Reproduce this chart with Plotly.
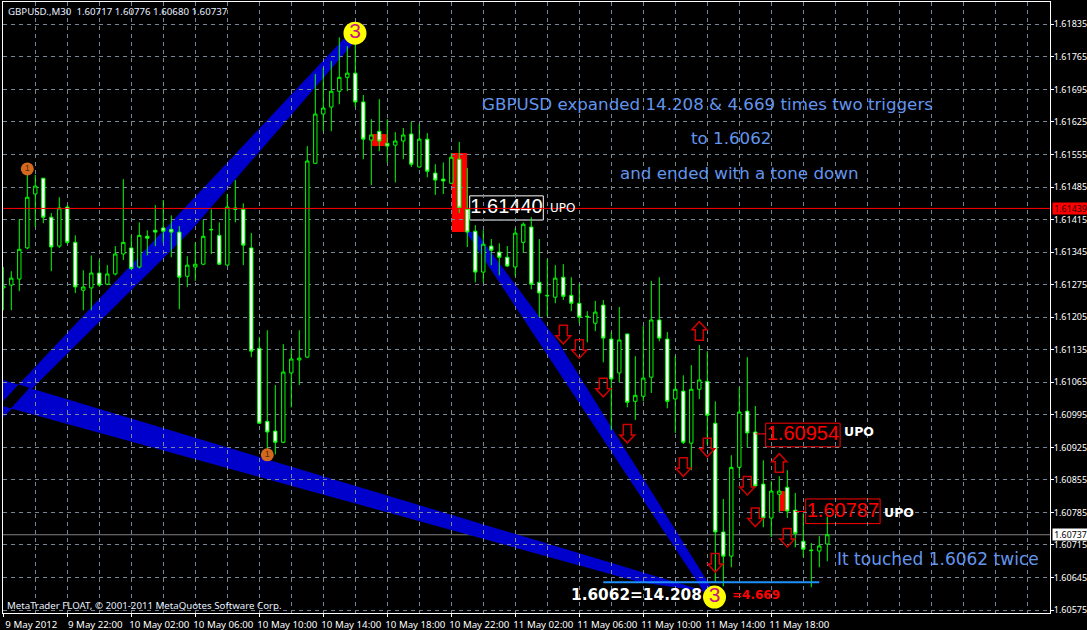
import plotly.graph_objects as go

# ---- candle data (30-minute bars) ----
bars = list(range(104))
opens = [1.61268,1.61274,1.61287,1.61354,1.61470,1.61504,1.61420,1.61358,1.61442,1.61366,
         1.61263,1.61268,1.61300,1.61276,1.61298,1.61341,1.61354,1.61313,1.61379,1.61392,
         1.61397,1.61394,1.61388,1.61293,1.61313,1.61319,1.61394,1.61381,1.61317,1.61440,
         1.61437,1.61354,1.61138,1.60981,1.60960,1.60936,1.61085,1.61113,1.61119,1.61536,
         1.61642,1.61657,1.61691,1.61721,1.61730,1.61668,1.61586,1.61605,1.61579,1.61575,
         1.61584,1.61599,1.61528,1.61588,1.61515,1.61502,1.61493,1.61545,1.61437,1.61390,
         1.61302,1.61358,1.61345,1.61334,1.61313,1.61366,1.61399,1.61280,1.61252,1.61248,
         1.61291,1.61252,1.61235,1.61207,1.61192,1.61231,1.61158,1.61085,1.61169,1.61024,
         1.61035,1.61076,1.61199,1.61158,1.61029,1.61046,1.60934,1.61050,1.61067,1.60977,
         1.60743,1.60691,1.60882,1.61003,1.60958,1.60846,1.60773,1.60824,1.60839,1.60790,
         1.60723,1.60704,1.60702,1.60717]
highs = [1.61313,1.61304,1.61416,1.61521,1.61511,1.61504,1.61429,1.61463,1.61446,1.61381,
         1.61306,1.61338,1.61328,1.61317,1.61358,1.61502,1.61381,1.61409,1.61392,1.61446,
         1.61457,1.61424,1.61401,1.61336,1.61366,1.61414,1.61437,1.61409,1.61470,1.61500,
         1.61450,1.61386,1.61162,1.61177,1.61059,1.61147,1.61136,1.61177,1.61573,1.61728,
         1.61741,1.61756,1.61807,1.61788,1.61794,1.61683,1.61631,1.61674,1.61631,1.61603,
         1.61612,1.61625,1.61620,1.61601,1.61534,1.61538,1.61558,1.61582,1.61526,1.61403,
         1.61392,1.61373,1.61364,1.61358,1.61397,1.61409,1.61420,1.61373,1.61330,1.61317,
         1.61319,1.61291,1.61276,1.61218,1.61240,1.61242,1.61173,1.61227,1.61169,1.61121,
         1.61186,1.61283,1.61291,1.61173,1.61121,1.61080,1.61102,1.61145,1.61132,1.61024,
         1.60814,1.60908,1.61055,1.61119,1.61014,1.60897,1.60852,1.60863,1.60876,1.60827,
         1.60783,1.60719,1.60734,1.60776]
lows = [1.61220,1.61220,1.61261,1.61351,1.61399,1.61407,1.61304,1.61354,1.61362,1.61257,
        1.61220,1.61220,1.61270,1.61274,1.61295,1.61328,1.61306,1.61310,1.61338,1.61358,
        1.61366,1.61334,1.61222,1.61270,1.61283,1.61317,1.61341,1.61318,1.61316,1.61409,
        1.61317,1.61119,1.60975,1.60897,1.60910,1.60934,1.61011,1.61059,1.61118,1.61535,
        1.61605,1.61605,1.61663,1.61691,1.61657,1.61545,1.61489,1.61562,1.61538,1.61495,
        1.61545,1.61528,1.61527,1.61506,1.61468,1.61470,1.61492,1.61429,1.61356,1.61280,
        1.61280,1.61317,1.61295,1.61313,1.61293,1.61343,1.61265,1.61205,1.61207,1.61235,
        1.61242,1.61218,1.61192,1.61151,1.61175,1.61108,1.60962,1.61065,1.61011,1.60984,
        1.61024,1.61042,1.61153,1.61009,1.60956,1.60932,1.60876,1.61029,1.60930,1.60635,
        1.60626,1.60667,1.60859,1.60925,1.60839,1.60753,1.60732,1.60786,1.60773,1.60710,
        1.60689,1.60624,1.60667,1.60680]
closes = [1.61272,1.61289,1.61351,1.61463,1.61487,1.61420,1.61356,1.61440,1.61366,1.61270,
          1.61270,1.61300,1.61274,1.61298,1.61341,1.61366,1.61310,1.61381,1.61375,1.61388,
          1.61390,1.61388,1.61291,1.61317,1.61319,1.61379,1.61393,1.61319,1.61442,1.61437,
          1.61360,1.61132,1.60977,1.60958,1.60936,1.61087,1.61115,1.61117,1.61541,1.61642,
          1.61655,1.61691,1.61721,1.61730,1.61668,1.61588,1.61597,1.61584,1.61573,1.61584,
          1.61597,1.61534,1.61588,1.61519,1.61500,1.61498,1.61549,1.61440,1.61388,1.61302,
          1.61362,1.61349,1.61334,1.61315,1.61386,1.61405,1.61276,1.61257,1.61251,1.61289,
          1.61250,1.61235,1.61205,1.61206,1.61216,1.61160,1.61072,1.61156,1.61022,1.61037,
          1.61074,1.61199,1.61160,1.61024,1.61050,1.60936,1.61050,1.61070,1.60994,1.60743,
          1.60691,1.60882,1.61001,1.60956,1.60842,1.60773,1.60831,1.60831,1.60788,1.60740,
          1.60706,1.60703,1.60713,1.60737]

# ---- axis labels ----
time_ticks = [0, 8, 16, 24, 32, 40, 48, 56, 64, 72, 80, 88, 96]
time_labels = ["9 May 2012", "9 May 22:00", "10 May 02:00", "10 May 06:00", "10 May 10:00",
               "10 May 14:00", "10 May 18:00", "10 May 22:00", "11 May 02:00", "11 May 06:00",
               "11 May 10:00", "11 May 14:00", "11 May 18:00"]
price_ticks = [1.61835, 1.61765, 1.61695, 1.61625, 1.61555, 1.61485, 1.61415, 1.61345, 1.61275,
               1.61205, 1.61135, 1.61065, 1.60995, 1.60925, 1.60855, 1.60785, 1.60715, 1.60645,
               1.60575]

# ---- levels ----
red_level = 1.61439
current_price = 1.60737
blue_level = 1.60635
blue_level_bars = [75, 102]

# ---- wave triangles (bar, price) ----
wave_a = [(43.2, 1.61816), (44.84, 1.61816), (23.3, 1.61388), (-0.1, 1.60988), (-0.1, 1.61023)]
wave_b = [(-0.1, 1.61070), (88.1, 1.60614), (79.6, 1.60635), (-0.1, 1.61014)]
wave_c = [(57.84, 1.61388), (59.09, 1.61388), (69.34, 1.61152), (88.84, 1.60614), (87.59, 1.60614)]
wave_overlap = [(-0.1, 1.61023), (1.9, 1.61060), (3.29, 1.61053), (0.96, 1.61009), (-0.1, 1.61014)]

# ---- red zones (bar from, bar to, price high, price low) ----
red_zones = [(46.1, 47.95, 1.61599, 1.61573), (56.05, 57.96, 1.61558, 1.61388), (97.0, 98.0, 1.60831, 1.60788)]

# ---- arrows ----
down_bars = [70, 72, 75, 78, 85, 88, 93, 94, 89, 98]
down_prices = [1.61167, 1.61136, 1.61053, 1.60954, 1.60882, 1.60924, 1.60842, 1.60774, 1.60676, 1.60730]
up_bars = [87, 97]
up_prices = [1.61176, 1.60892]

# ---- wave markers ----
yellow_bars = [43.96, 88.9]
yellow_prices = [1.61816, 1.60603]
orange_bars = [3, 33]
orange_prices = [1.61524, 1.60909]

# ---- UPO boxes (bar from, bar to, price high, price low, colour) ----
boxes = [(58.3, 67.5, 1.61466, 1.61414, "white"),
         (95.3, 104.6, 1.60977, 1.60926, "#ff0000"),
         (100.3, 109.6, 1.60814, 1.60761, "#ff0000")]
connectors = [(94, 95.3, 1.60954), (99, 100.3, 1.60787)]
box_texts = ["1.61440", "1.60954", "1.60787"]
box_text_bars = [62.9, 99.95, 104.95]
box_text_prices = [1.61440, 1.60951, 1.60787]
box_text_colors = ["white", "#ff0000", "#ff0000"]

W, H = 1087, 630
L, R, T, B = 3, 1050, 2, 613


def px(x):
    return (x - L) / (R - L)


def py(y):
    return 1 - (y - T) / (B - T)


def poly(points):
    return "M" + " L".join(f"{x},{y}" for x, y in points) + " Z"


DOWN = "M-4,9.5 L4,9.5 L4,-1 L7.5,-1 L0,-9 L-7.5,-1 L-4,-1 Z"
UP = "M-4,-9.5 L4,-9.5 L4,1 L7.5,1 L0,9 L-7.5,1 L-4,1 Z"

shapes = []
for pts in (wave_a, wave_b, wave_c):
    shapes.append(dict(type="path", path=poly(pts), xref="x", yref="y", layer="below",
                       fillcolor="#0000cd", line=dict(width=0)))
shapes.append(dict(type="path", path=poly(wave_overlap), xref="x", yref="y", layer="below",
                   fillcolor="black", line=dict(width=0)))
for x0, x1, hi, lo in red_zones:
    shapes.append(dict(type="rect", x0=x0, x1=x1, y0=lo, y1=hi, xref="x", yref="y", layer="below",
                       fillcolor="#ff0000", line=dict(width=0)))
for x0, x1, hi, lo, c in boxes:
    shapes.append(dict(type="rect", x0=x0, x1=x1, y0=lo, y1=hi, xref="x", yref="y", layer="below",
                       fillcolor="black", line=dict(color=c, width=1)))
for x0, x1, p in connectors:
    shapes.append(dict(type="line", x0=x0, x1=x1, y0=p, y1=p, xref="x", yref="y", layer="above",
                       line=dict(color="#ff0000", width=1)))
shapes.append(dict(type="line", x0=0, x1=1, y0=current_price, y1=current_price, xref="paper", yref="y",
                   layer="below", line=dict(color="#808080", width=1)))
shapes.append(dict(type="line", x0=0, x1=1, y0=red_level, y1=red_level, xref="paper", yref="y",
                   layer="above", line=dict(color="#ff0000", width=1)))
shapes.append(dict(type="line", x0=blue_level_bars[0], x1=blue_level_bars[1], y0=blue_level, y1=blue_level,
                   xref="x", yref="y", layer="above", line=dict(color="#1e90ff", width=2)))
for b, p in zip(down_bars, down_prices):
    shapes.append(dict(type="path", path=DOWN, xref="x", yref="y", xsizemode="pixel", ysizemode="pixel",
                       xanchor=b, yanchor=p, layer="above", line=dict(color="#d00000", width=1.5)))
for b, p in zip(up_bars, up_prices):
    shapes.append(dict(type="path", path=UP, xref="x", yref="y", xsizemode="pixel", ysizemode="pixel",
                       xanchor=b, yanchor=p, layer="above", line=dict(color="#d00000", width=1.5)))

fig = go.Figure()
fig.add_trace(go.Candlestick(
    x=bars, open=opens, high=highs, low=lows, close=closes,
    increasing=dict(line=dict(color="#00ff00", width=1), fillcolor="black"),
    decreasing=dict(line=dict(color="#00ff00", width=1), fillcolor="white"),
    whiskerwidth=0, showlegend=False, hoverinfo="skip"))
fig.add_trace(go.Scatter(
    x=box_text_bars, y=box_text_prices, text=box_texts, mode="text", textposition="middle center",
    textfont=dict(family="Liberation Sans", size=20, color=box_text_colors),
    showlegend=False, hoverinfo="skip"))
fig.add_trace(go.Scatter(
    x=orange_bars, y=orange_prices, text=["1", "1"], mode="markers+text", textposition="middle center",
    marker=dict(color="#d2691e", size=13), textfont=dict(family="Liberation Sans", size=9, color="#5a2a00"),
    showlegend=False, hoverinfo="skip"))
fig.add_trace(go.Scatter(
    x=yellow_bars, y=yellow_prices, text=["3", "3"], mode="markers+text", textposition="middle center",
    marker=dict(color="#ffff00", size=23), textfont=dict(family="Liberation Sans", size=21, color="#c71585"),
    showlegend=False, hoverinfo="skip"))

BLUE = "#6495ed"
TXT = "DejaVu Sans"
UI = "Noto Sans"


def note(x, y, text, size, color, family=TXT, anchor="left", bold=False):
    return dict(xref="paper", yref="paper", x=px(x), y=py(y), text=f"<b>{text}</b>" if bold else text,
                showarrow=False, xanchor=anchor, yanchor="middle",
                font=dict(family=family, size=size, color=color), borderpad=0)


annotations = [
    note(7, 11, "GBPUSD.,M30  1.60717 1.60776 1.60680 1.60737", 9.7, "#e8f0ff", UI),
    note(707, 104, "GBPUSD expanded 14.208 &amp; 4.669 times two triggers", 16.7, BLUE, anchor="center"),
    note(731, 138, "to 1.6062", 16.7, BLUE, anchor="center"),
    note(739, 173, "and ended with a tone down", 16.7, BLUE, anchor="center"),
    note(938, 559, "It touched 1.6062 twice", 17, BLUE, anchor="center"),
    note(549, 208, "UPO", 12, "white", "DejaVu Sans"),
    note(843, 431, "UPO", 12.5, "white", "DejaVu Sans", bold=True),
    note(883, 512, "UPO", 12.5, "white", "DejaVu Sans", bold=True),
    note(570, 595, "1.6062=14.208", 15.3, "white", "DejaVu Sans", bold=True),
    note(731, 595, "=4.669", 12, "#ff0000", "DejaVu Sans", bold=True),
    note(6, 605, "MetaTrader FLOAT, © 2001-2011 MetaQuotes Software Corp.", 9.7, "#e8f0ff", UI),
    # price flags on the right-hand scale
    dict(xref="paper", yref="y", x=px(1051.5), y=red_level, text="1.61439", showarrow=False, xanchor="left",
         yanchor="middle", bgcolor="#ff0000", width=35, height=11, align="center", borderpad=0,
         font=dict(family=UI, size=8.8, color="#300000")),
    dict(xref="paper", yref="y", x=px(1051.5), y=current_price, text="1.60737", showarrow=False, xanchor="left",
         yanchor="middle", bgcolor="white", width=35, height=11, align="center", borderpad=0,
         font=dict(family=UI, size=8.8, color="black")),
]

GRID = "#778899"
fig.update_layout(
    width=W, height=H, autosize=False,
    paper_bgcolor="black", plot_bgcolor="black",
    margin=dict(l=L, r=W - R, t=T, b=H - B, pad=0, autoexpand=False),
    boxgap=0.4,
    shapes=shapes, annotations=annotations, showlegend=False,
    xaxis=dict(
        type="linear", range=[(L - 3.3) / 8, (R - 3.3) / 8], rangeslider=dict(visible=False),
        tickmode="array", tickvals=time_ticks, ticktext=time_labels, ticklabelshift=28, tickangle=0,
        automargin=False, ticklabelstandoff=-1,
        ticks="outside", ticklen=3, tickcolor="white", tickwidth=1,
        tickfont=dict(family=UI, size=9.7, color="white"),
        showline=True, linecolor="white", linewidth=1, mirror=True,
        showgrid=False, zeroline=False,
        minor=dict(tickmode="linear", tick0=0, dtick=4, showgrid=True, gridcolor=GRID, gridwidth=1,
                   griddash="4px,4px", ticks=""),
    ),
    yaxis=dict(
        side="right", range=[1.605687, 1.61883], tickmode="array", tickvals=price_ticks,
        ticktext=[f"{v:.5f}" for v in price_ticks], automargin=False, ticklabelstandoff=-2,
        ticks="outside", ticklen=3, tickcolor="white", tickwidth=1,
        tickfont=dict(family=UI, size=9, color="white"),
        showline=True, linecolor="white", linewidth=1, mirror=True,
        showgrid=True, gridcolor=GRID, gridwidth=1, griddash="4px,4px", zeroline=False,
    ),
)

fig.write_html("out.html", config=dict(displayModeBar=False),
               post_script="document.body.style.margin='0';document.body.style.background='black';document.body.style.overflow='hidden';")
